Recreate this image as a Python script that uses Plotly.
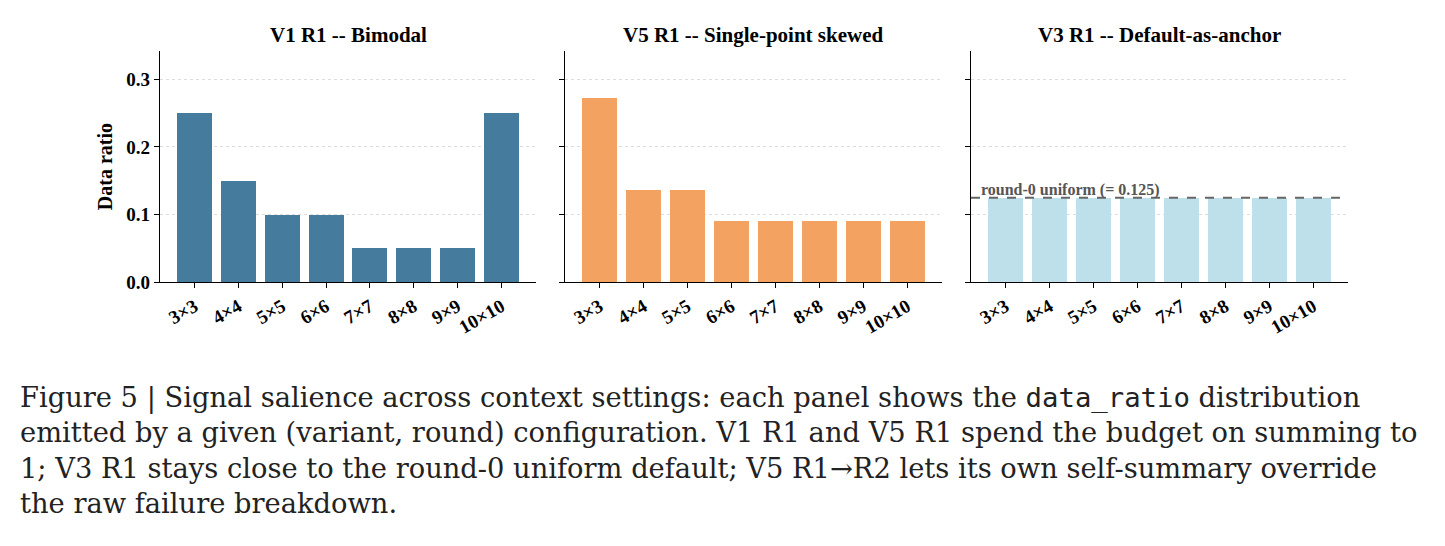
import plotly.graph_objects as go

categories = ["3×3", "4×4", "5×5", "6×6", "7×7", "8×8", "9×9", "10×10"]
v1_r1 = [0.25, 0.15, 0.10, 0.10, 0.05, 0.05, 0.05, 0.25]
v5_r1 = [3/11, 1.5/11, 1.5/11, 1/11, 1/11, 1/11, 1/11, 1/11]
v3_r1 = [0.125] * 8
uniform_default = 0.125
titles = ["V1 R1 -- Bimodal", "V5 R1 -- Single-point skewed", "V3 R1 -- Default-as-anchor"]
colors = ["#457b9d", "#f4a261", "#bde0ea"]
series = [v1_r1, v5_r1, v3_r1]

W, H = 1445, 546
xdoms = [(160, 536), (565, 942), (971, 1348)]
ytop, ybot = 52, 288

fig = go.Figure()
serif = "Liberation Serif"
for i, (vals, col) in enumerate(zip(series, colors)):
    sfx = "" if i == 0 else str(i + 1)
    fig.add_trace(go.Bar(x=list(range(len(categories))), y=vals, marker=dict(color=col, line=dict(width=0)),
                         width=0.8, xaxis="x" + sfx, yaxis="y" + sfx, showlegend=False))
    d = xdoms[i]
    fig.layout["xaxis" + sfx] = dict(
        domain=[d[0] / W, d[1] / W], anchor="y" + sfx, range=[-0.79, 7.79],
        tickmode="array", tickvals=list(range(len(categories))), ticktext=categories,
        tickangle=-30, ticks="outside", ticklen=5, tickcolor="black", showline=True, linecolor="black",
        linewidth=1.2, showgrid=False, zeroline=False,
        tickfont=dict(family=serif, size=19, color="black", weight="bold"))
    fig.layout["yaxis" + sfx] = dict(
        domain=[1 - ybot / H, 1 - ytop / H], anchor="x" + sfx, range=[0, 0.342],
        tickvals=[0, 0.1, 0.2, 0.3], tickformat=".1f", showticklabels=(i == 0),
        ticks="outside", ticklen=5, tickcolor="black", showline=True, linecolor="black", linewidth=1.2,
        showgrid=True, gridcolor="#dddddd", griddash="dot", gridwidth=1, zeroline=False,
        tickfont=dict(family=serif, size=19, color="black", weight="bold"))
    fig.add_annotation(text="<b>" + titles[i] + "</b>", xref="x" + sfx + " domain", yref="paper",
                       x=0.5, y=1 - 36 / H, showarrow=False, yanchor="middle",
                       font=dict(family=serif, size=21, color="black"))

fig.layout.yaxis.title = dict(text="<b>Data ratio</b>", font=dict(family=serif, size=20, color="black"), standoff=8)

fig.add_shape(type="line", xref="x3 domain", yref="y3", x0=0, x1=1, y0=uniform_default, y1=uniform_default,
              line=dict(color="#666666", width=2, dash="dash"))
fig.add_annotation(text="<b>round-0 uniform (= 0.125)</b>", xref="x3 domain", yref="y3", x=0.02,
                   y=uniform_default, xanchor="left", yanchor="bottom", showarrow=False, yshift=-3,
                   font=dict(family=serif, size=16, color="#555555"))

caption = ("Figure 5 | Signal salience across context settings: each panel shows the "
           "<span style='font-family:DejaVu Sans Mono'>data_ratio</span> distribution<br>"
           "emitted by a given (variant, round) configuration. V1 R1 and V5 R1 spend the budget on summing to<br>"
           "1; V3 R1 stays close to the round-0 uniform default; V5 R1→R2 lets its own self-summary override<br>"
           "the raw failure breakdown.")
fig.add_annotation(text=caption, xref="paper", yref="paper", x=18 / W, y=1 - 388 / H, xanchor="left",
                   yanchor="top", align="left", showarrow=False,
                   font=dict(family="DejaVu Serif", size=27.3, color="#222222"))

fig.update_layout(width=W, height=H, margin=dict(l=0, r=0, t=0, b=0), plot_bgcolor="white",
                  paper_bgcolor="white", bargap=0)
fig.write_html("out.html")
